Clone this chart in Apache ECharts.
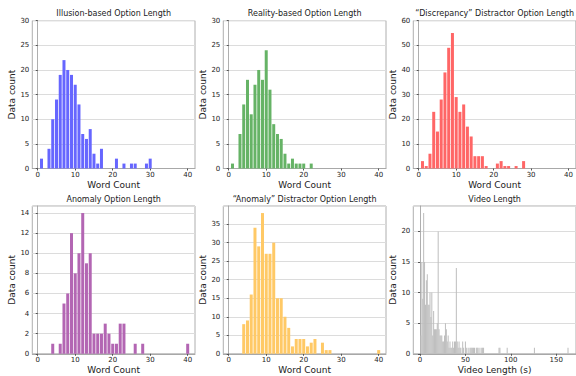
<!DOCTYPE html>
<html><head><meta charset="utf-8">
<script src="https://cdn.jsdelivr.net/npm/echarts@6/dist/echarts.min.js"></script>
<style>html,body{margin:0;padding:0;background:#fff}#c{width:576px;height:376px}</style>
</head><body><div id="c"></div>
<script>
const wordBins = [0,1,2,3,4,5,6,7,8,9,10,11,12,13,14,15,16,17,18,19,20,21,22,23,24,25,26,27,28,29,30,31,32,33,34,35,36,37,38,39,40];
const illusionCounts = [0,2,0,4,10,14,19,22,20,19,17,13,7,6,8,3,1,4,0,0,0,2,0,1,0,1,1,0,0,1,2,0,0,0,0,0,0,0,0,0,0];
const realityCounts = [0,1,0,7,13,18,11,17,20,18,24,16,9,7,6,3,1,2,1,1,1,0,1,0,0,0,0,0,0,0,0,0,0,0,0,0,0,0,0,0,0];
const discrepancyCounts = [0,3,1,6,23,15,28,39,49,55,29,23,26,17,13,5,5,5,1,0,0,2,3,1,1,0,1,0,3,0,0,0,0,0,0,0,0,0,0,0,0];
const anomalyCounts = [0,0,0,0,1,0,1,5,6,12,8,10,14,9,10,2,2,2,3,2,1,1,3,3,0,0,1,0,1,0,0,0,0,0,0,0,0,0,0,0,1];
const anomalyDistractorCounts = [0,0,0,0,8,9,16,34,29,38,27,27,30,15,15,10,7,2,4,4,4,2,3,4,0,3,1,1,0,0,0,0,0,0,0,0,0,0,0,0,1];
const videoSeconds = [1,2,3,4,5,6,7,8,9,10,11,12,13,14,15,16,17,18,19,20,21,22,23,24,25,26,27,28,29,30,31,32,33,34,35,36,37,38,39,40,41,42,43,44,45,47,48,50,51,53,55,56,57,58,59,60,62,63,64,66,68,69,70,87,88,96,126,163];
const videoCounts =  [3,15,9,23,15,8,12,13,8,8,10,6,10,3,7,4,4,4,5,20,4,3,3,3,2,2,3,5,4,2,3,1,2,1,1,2,1,2,2,14,2,1,2,1,1,2,1,2,1,1,1,1,1,1,1,1,1,1,1,1,1,1,1,1,1,1,1,1];
const titles = ['Illusion-based Option Length','Reality-based Option Length','\u201cDiscrepancy\u201d Distractor Option Length','Anomaly Option Length','\u201cAnomaly\u201d Distractor Option Length','Video Length'];
const xNames = ['Word Count','Word Count','Word Count','Word Count','Word Count','Video Length (s)'];
const yName = 'Data count';
const wordTicks = [0,10,20,30,40];
const videoTicks = [0,50,100,150];

const FONT = 'DejaVu Sans';
const colLeft = [32.3, 223.3, 413.3];
const rowTop = [20.7, 206];
const gw = 162.7, gh = 147.8;
const panels = [
  {x: wordBins, y: illusionCounts, color: '#6666ff', ymax: 30, yint: 5, xmin: -1.45, xmax: 41.95, ticks: wordTicks, bw: 3},
  {x: wordBins, y: realityCounts, color: '#66b366', ymax: 30, yint: 5, xmin: -1.45, xmax: 41.95, ticks: wordTicks, bw: 3},
  {x: wordBins, y: discrepancyCounts, color: '#ff6666', ymax: 60, yint: 10, xmin: -1.45, xmax: 41.95, ticks: wordTicks, bw: 3},
  {x: wordBins, y: anomalyCounts, color: '#b366b3', ymax: 14.7, yint: 2, xmin: -1.45, xmax: 41.95, ticks: wordTicks, bw: 3},
  {x: wordBins, y: anomalyDistractorCounts, color: '#ffc966', ymax: 39.9, yint: 5, xmin: -1.45, xmax: 41.95, ticks: wordTicks, bw: 3},
  {x: videoSeconds, y: videoCounts, color: '#bdbdbd', ymax: 24.15, yint: 5, xmin: -7.4, xmax: 171.8, ticks: videoTicks, bw: 0.9}
];
const grid = [], xAxis = [], yAxis = [], series = [], graphic = [];
panels.forEach((p, i) => {
  const r = Math.floor(i / 3), c = i % 3;
  grid.push({left: colLeft[c], top: rowTop[r], width: gw, height: gh, show: true, borderColor: '#9a9a9a', borderWidth: 0.8, backgroundColor: 'transparent', containLabel: false});
  xAxis.push({type: 'value', gridIndex: i, min: p.xmin, max: p.xmax,
    name: xNames[i], nameLocation: 'middle', nameGap: 12,
    nameTextStyle: {fontFamily: FONT, fontSize: 9, color: '#222'},
    axisLine: {show: true, lineStyle: {color: '#9a9a9a', width: 0.8}},
    axisTick: {show: true, length: 2, customValues: p.ticks, lineStyle: {color: '#555'}},
    axisLabel: {customValues: p.ticks, fontFamily: FONT, fontSize: 7, color: '#222', margin: 3},
    splitLine: {show: false}});
  yAxis.push({type: 'value', gridIndex: i, min: 0, max: p.ymax, interval: p.yint,
    name: yName, nameLocation: 'middle', nameGap: 13.5,
    nameTextStyle: {fontFamily: FONT, fontSize: 9, color: '#222'},
    axisLine: {show: true, lineStyle: {color: '#9a9a9a', width: 0.8}},
    axisTick: {show: true, length: 2, lineStyle: {color: '#555'}},
    axisLabel: {fontFamily: FONT, fontSize: 7, color: '#222', margin: 3, showMaxLabel: p.ymax % p.yint === 0,
      formatter: v => (v % p.yint === 0 ? String(v) : '')},
    splitLine: {show: true, lineStyle: {color: '#dcdcdc', width: 1}}});
  const data = [];
  p.x.forEach((xv, k) => { if (p.y[k] > 0) data.push([xv, p.y[k]]); });
  series.push({type: 'bar', xAxisIndex: i, yAxisIndex: i, data: data, barWidth: p.bw,
    itemStyle: {color: p.color}, silent: true, animation: false});
  graphic.push({type: 'text', x: colLeft[c] + gw / 2, y: rowTop[r] - 7,
    style: {text: titles[i], fontFamily: FONT, fontSize: 8, fill: '#222', align: 'center', verticalAlign: 'middle'}});
});
const chart = echarts.init(document.getElementById('c'), null, {renderer: 'svg'});
chart.setOption({animation: false, grid, xAxis, yAxis, series, graphic});
</script></body></html>
